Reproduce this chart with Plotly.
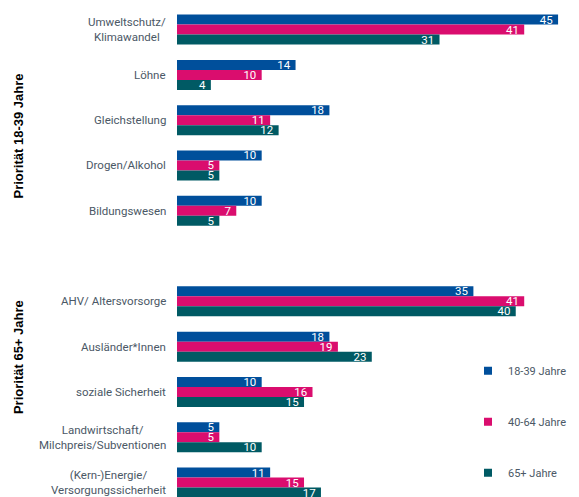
import plotly.graph_objects as go

categories = [
    "Umweltschutz/<br>Klimawandel", "Löhne", "Gleichstellung", "Drogen/Alkohol", "Bildungswesen",
    "AHV/ Altersvorsorge", "Ausländer*Innen", "soziale Sicherheit",
    "Landwirtschaft/<br>Milchpreis/Subventionen", "(Kern-)Energie/<br>Versorgungssicherheit",
]
group_titles = ["Priorität 18-39 Jahre", "Priorität 65+ Jahre"]
series_names = ["18-39 Jahre", "40-64 Jahre", "65+ Jahre"]
v_18_39 = [45, 14, 18, 10, 10, 35, 18, 10, 5, 11]
v_40_64 = [41, 10, 11, 5, 7, 41, 19, 16, 5, 15]
v_65 = [31, 4, 12, 5, 5, 40, 23, 15, 10, 17]

colors = ["#004f9b", "#da0d6e", "#005a64"]
text_color = "#4b5866"
FONT = "Roboto"
FS = 11.5

# slot positions: 5 items, one empty slot, 5 items
pos = [i if i < 5 else i + 1 for i in range(len(categories))]

fig = go.Figure()
legends = ["legend", "legend2", "legend3"]
for name, vals, col in zip(series_names, [v_18_39, v_40_64, v_65], colors):
    fig.add_trace(go.Bar(
        y=pos, x=vals, orientation="h", name=name,
        marker=dict(color=col, line=dict(width=0)),
        text=[str(v) + "\u2009" for v in vals], textposition="inside", insidetextanchor="end",
        constraintext="none", textangle=0,
        textfont=dict(family=FONT, size=FS, color="white"),
        showlegend=False, hoverinfo="x+name",
    ))
# legend entries (small square keys)
for name, col, lg in zip(series_names, colors, legends):
    fig.add_trace(go.Scatter(
        x=[None], y=[None], mode="markers", name=name,
        marker=dict(symbol="square", size=8, color=col),
        legend=lg, showlegend=True,
    ))

annotations = []
for c, p in zip(categories, pos):
    annotations.append(dict(
        text=c, x=0, xref="paper", y=p, yref="y", xanchor="right", yanchor="middle",
        xshift=-9, align="center", showarrow=False,
        font=dict(family=FONT, size=FS, color=text_color),
    ))
for t, yy in zip(group_titles, [2.36, 7.23]):
    annotations.append(dict(
        text="<b>" + t + "</b>", x=0, xref="paper", y=yy, yref="y",
        xanchor="center", yanchor="middle", xshift=-159, textangle=-90,
        showarrow=False, font=dict(family="Liberation Sans, Arial", size=13, color="black"),
    ))

# plot area spans from x=169 to 571 (figure px): 402 px, 8.47 px per unit
leg_common = dict(font=dict(family=FONT, size=11, color=text_color), bgcolor="rgba(0,0,0,0)",
                  xanchor="left", yanchor="middle", x=(460 - 169) / 402, itemwidth=30)
fig.update_layout(
    width=571, height=489,
    margin=dict(l=169, r=0, t=0, b=0, autoexpand=False),
    paper_bgcolor="white", plot_bgcolor="white",
    barmode="group", bargap=0.3376, bargroupgap=0,
    xaxis=dict(range=[0, 47.47], showgrid=False, zeroline=False, showticklabels=False, showline=False),
    yaxis=dict(range=[10.32, -0.477], showgrid=False, zeroline=False, showticklabels=False, showline=False),
    annotations=annotations,
    legend=dict(y=0.2583, **leg_common),
    legend2=dict(y=0.1540, **leg_common),
    legend3=dict(y=0.0497, **leg_common),
    showlegend=True,
)
fig.write_html("out.html")
